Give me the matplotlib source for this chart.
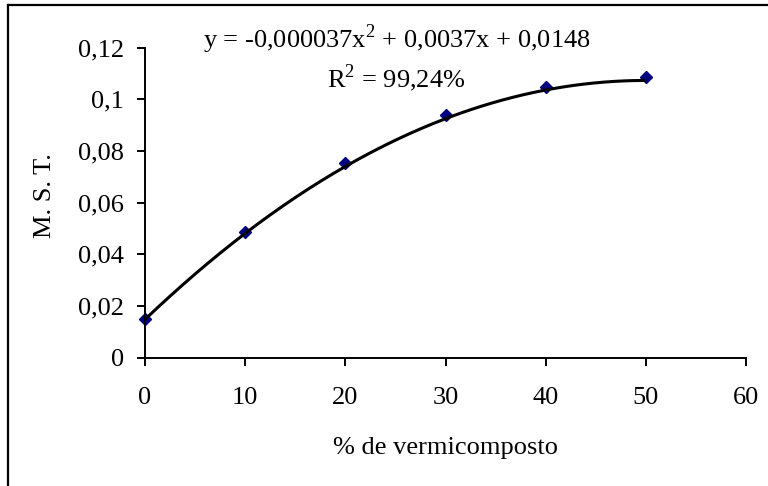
import numpy as np
import matplotlib
matplotlib.use("Agg")
import matplotlib.pyplot as plt
from matplotlib.lines import Line2D

# data
vermicomposto = [0, 10, 20, 30, 40, 50]
mst = [0.0149, 0.0485, 0.0753, 0.0940, 0.1047, 0.1087]
# trendline coefficients as printed on the chart (x^2, x, const)
coef = [-0.000037, 0.0037, 0.0148]
eq_text = "y = -0,000037x$^{2}$ + 0,0037x + 0,0148"
r2_text = "R$^{2}$ = 99,24%"
xticks = [0, 10, 20, 30, 40, 50, 60]
yticks = [0, 0.02, 0.04, 0.06, 0.08, 0.1, 0.12]
ytick_labels = ["0", "0,02", "0,04", "0,06", "0,08", "0,1", "0,12"]

plt.rcParams['font.family'] = ['Liberation Serif', 'DejaVu Serif']
plt.rcParams['mathtext.fontset'] = 'custom'
plt.rcParams['mathtext.rm'] = 'Liberation Serif'
fs = 19

fig = plt.figure(figsize=(7.68, 4.86), dpi=100)
ax = fig.add_axes([0.1888, 0.264, 0.7826, 0.638])

ax.plot(vermicomposto, mst, linestyle='none', marker='D', markersize=6.5,
        color='#000080', zorder=2, clip_on=False)
xs = np.linspace(min(vermicomposto), max(vermicomposto), 200)
ax.plot(xs, np.polyval(coef, xs), color='black', linewidth=2.2, zorder=3,
        solid_capstyle='butt')

ax.set_xlim(0, 60)
ax.set_ylim(0, 0.12)
ax.set_xticks(xticks)
ax.set_xticklabels([str(v) for v in xticks])
ax.set_yticks(yticks)
ax.set_yticklabels(ytick_labels)
for s in ['top', 'right']:
    ax.spines[s].set_visible(False)
for s in ['left', 'bottom']:
    ax.spines[s].set_linewidth(1.4)
ax.tick_params(direction='out', length=6, width=1.4, labelsize=fs)
ax.tick_params(axis='x', pad=15)
ax.tick_params(axis='y', pad=9)

fig.text(0.0586, 0.597, "M. S. T.", rotation=90, ha='center', va='center', fontsize=fs)
fig.text(0.580, 0.078, "% de vermicomposto", ha='center', va='center', fontsize=fs)
fig.text(0.517, 0.92, eq_text, ha='center', va='center', fontsize=fs)
fig.text(0.516, 0.8395, r2_text, ha='center', va='center', fontsize=fs)

# chart-area border (only left and top edges fall inside the image)
fig.add_artist(Line2D([0.0105, 0.0105], [0, 0.99], transform=fig.transFigure,
                      color='black', linewidth=1.6))
fig.add_artist(Line2D([0.0105, 1.0], [0.99, 0.99], transform=fig.transFigure,
                      color='black', linewidth=1.6))

fig.savefig("out.png", dpi=100)
